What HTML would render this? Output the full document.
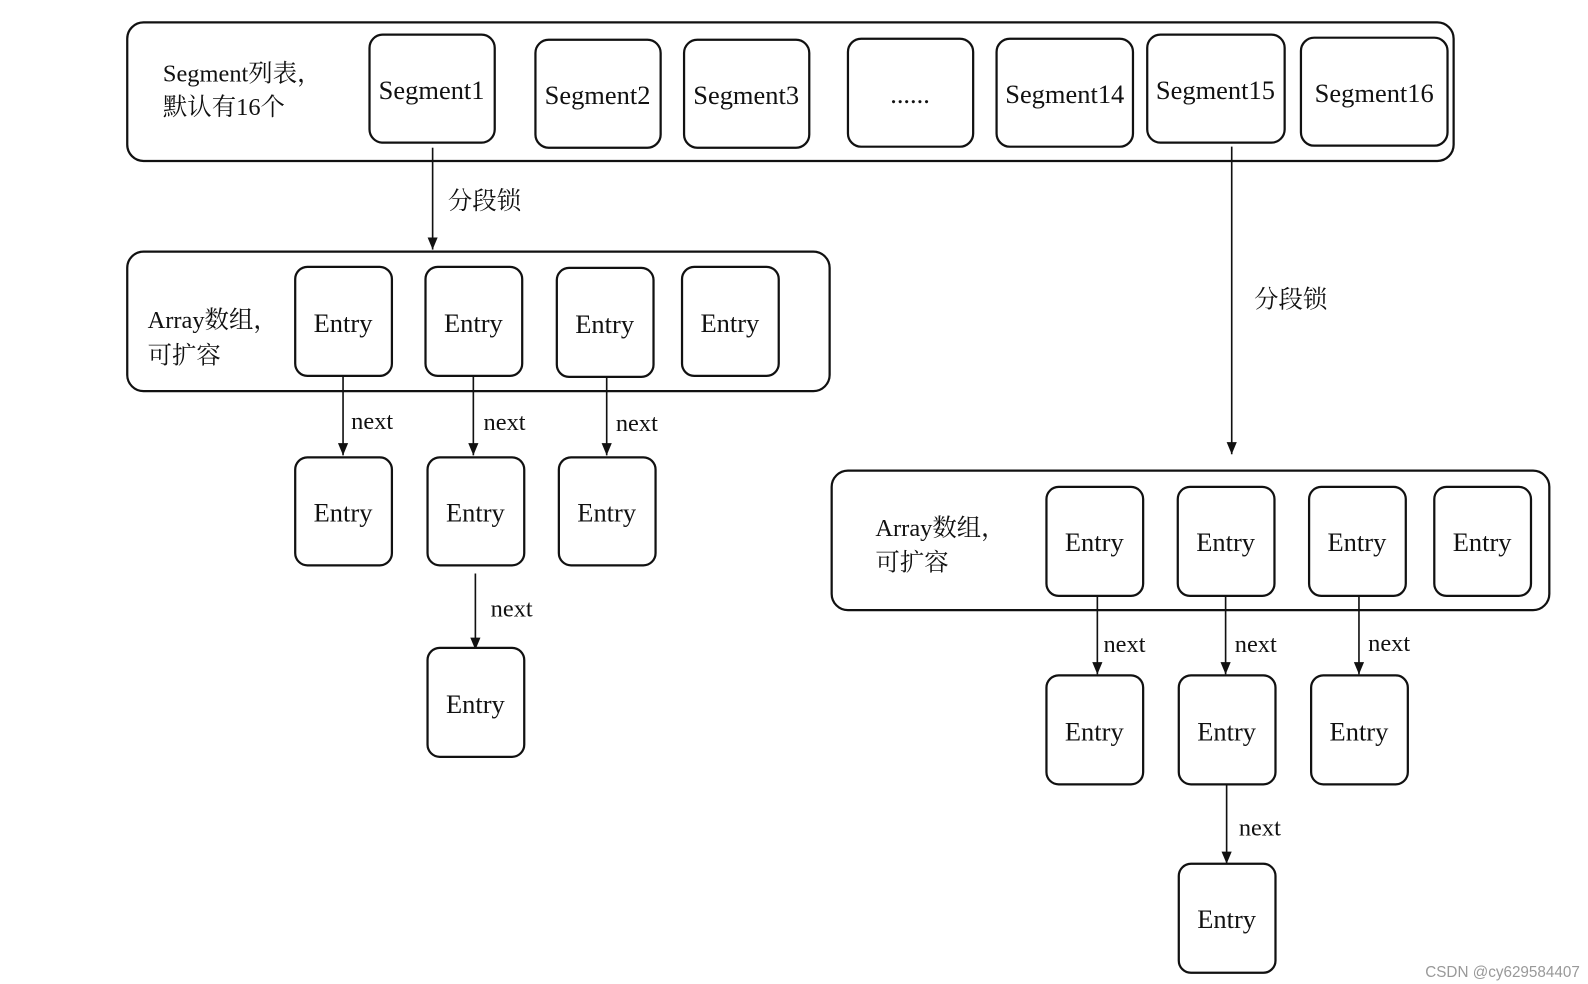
<!DOCTYPE html>
<html><head><meta charset="utf-8"><style>
html,body{margin:0;padding:0;background:#fff;}
svg{display:block}
text{font-family:"Liberation Serif","Noto Serif CJK SC",serif;fill:#111;}
.b{fill:#fff;stroke:#111;stroke-width:2.2}
.l{stroke:#111;stroke-width:1.6}
.t{font-size:26px;text-anchor:middle}
.n{font-size:24px}
</style></head><body>
<svg width="1588" height="984" viewBox="0 0 1560 966" preserveAspectRatio="none">
<defs><marker id="a" markerWidth="10" markerHeight="12" refX="5" refY="11" orient="auto" markerUnits="userSpaceOnUse"><path d="M0,0 L10,0 L5,12 Z" fill="#111" transform="rotate(-90 5 6)"/></marker>
<marker id="h" markerWidth="12" markerHeight="12" refX="6" refY="12" markerUnits="userSpaceOnUse"><path d="M1,0 L11,0 L6,12 Z" fill="#111"/></marker></defs>

<rect class="b" x="125" y="22" width="1303" height="136" rx="16"/>
<text x="160" y="80" style="font-size:24px">Segment列表，</text>
<text x="160" y="113" style="font-size:24px">默认有16个</text>
<rect class="b" x="363" y="34" width="123" height="106" rx="13"/><text class="t" x="424" y="97">Segment1</text>
<rect class="b" x="526" y="39" width="123" height="106" rx="13"/><text class="t" x="587" y="102">Segment2</text>
<rect class="b" x="672" y="39" width="123" height="106" rx="13"/><text class="t" x="733" y="102">Segment3</text>
<rect class="b" x="833" y="38" width="123" height="106" rx="13"/><text class="t" x="894" y="101">......</text>
<rect class="b" x="979" y="38" width="134" height="106" rx="13"/><text class="t" x="1046" y="101">Segment14</text>
<rect class="b" x="1127" y="34" width="135" height="106" rx="13"/><text class="t" x="1194" y="97">Segment15</text>
<rect class="b" x="1278" y="37" width="144" height="106" rx="13"/><text class="t" x="1350" y="100">Segment16</text>

<line class="l" x1="425" y1="145" x2="425" y2="245" marker-end="url(#h)"/>
<text x="440" y="205" class="n">分段锁</text>
<line class="l" x1="1210" y1="144" x2="1210" y2="446" marker-end="url(#h)"/>
<text x="1232" y="302" class="n">分段锁</text>

<rect class="b" x="125" y="247" width="690" height="137" rx="16"/>
<text x="145" y="322" style="font-size:24px">Array数组，</text>
<text x="145" y="357" style="font-size:24px">可扩容</text>
<rect class="b" x="290" y="262" width="95" height="107" rx="12"/><text class="t" x="337" y="326">Entry</text>
<rect class="b" x="418" y="262" width="95" height="107" rx="12"/><text class="t" x="465" y="326">Entry</text>
<rect class="b" x="547" y="263" width="95" height="107" rx="12"/><text class="t" x="594" y="327">Entry</text>
<rect class="b" x="670" y="262" width="95" height="107" rx="12"/><text class="t" x="717" y="326">Entry</text>

<line class="l" x1="337" y1="369" x2="337" y2="447" marker-end="url(#h)"/><text x="345" y="421" class="n">next</text>
<line class="l" x1="465" y1="369" x2="465" y2="447" marker-end="url(#h)"/><text x="475" y="422" class="n">next</text>
<line class="l" x1="596" y1="370" x2="596" y2="447" marker-end="url(#h)"/><text x="605" y="423" class="n">next</text>

<rect class="b" x="290" y="449" width="95" height="106" rx="12"/><text class="t" x="337" y="512">Entry</text>
<rect class="b" x="420" y="449" width="95" height="106" rx="12"/><text class="t" x="467" y="512">Entry</text>
<rect class="b" x="549" y="449" width="95" height="106" rx="12"/><text class="t" x="596" y="512">Entry</text>
<line class="l" x1="467" y1="563" x2="467" y2="638" marker-end="url(#h)"/><text x="482" y="605" class="n">next</text>
<rect class="b" x="420" y="636" width="95" height="107" rx="12"/><text class="t" x="467" y="700">Entry</text>

<rect class="b" x="817" y="462" width="705" height="137" rx="16"/>
<text x="860" y="526" style="font-size:24px">Array数组，</text>
<text x="860" y="560" style="font-size:24px">可扩容</text>
<rect class="b" x="1028" y="478" width="95" height="107" rx="12"/><text class="t" x="1075" y="541">Entry</text>
<rect class="b" x="1157" y="478" width="95" height="107" rx="12"/><text class="t" x="1204" y="541">Entry</text>
<rect class="b" x="1286" y="478" width="95" height="107" rx="12"/><text class="t" x="1333" y="541">Entry</text>
<rect class="b" x="1409" y="478" width="95" height="107" rx="12"/><text class="t" x="1456" y="541">Entry</text>

<line class="l" x1="1078" y1="585" x2="1078" y2="662" marker-end="url(#h)"/><text x="1084" y="640" class="n">next</text>
<line class="l" x1="1204" y1="585" x2="1204" y2="662" marker-end="url(#h)"/><text x="1213" y="640" class="n">next</text>
<line class="l" x1="1335" y1="585" x2="1335" y2="662" marker-end="url(#h)"/><text x="1344" y="639" class="n">next</text>

<rect class="b" x="1028" y="663" width="95" height="107" rx="12"/><text class="t" x="1075" y="727">Entry</text>
<rect class="b" x="1158" y="663" width="95" height="107" rx="12"/><text class="t" x="1205" y="727">Entry</text>
<rect class="b" x="1288" y="663" width="95" height="107" rx="12"/><text class="t" x="1335" y="727">Entry</text>
<line class="l" x1="1205" y1="770" x2="1205" y2="848" marker-end="url(#h)"/><text x="1217" y="820" class="n">next</text>
<rect class="b" x="1158" y="848" width="95" height="107" rx="12"/><text class="t" x="1205" y="911">Entry</text>

<text x="1552" y="959" style="font-family:'Liberation Sans',sans-serif;font-size:15px;fill:#999;text-anchor:end">CSDN @cy629584407</text>
</svg>
</body></html>
